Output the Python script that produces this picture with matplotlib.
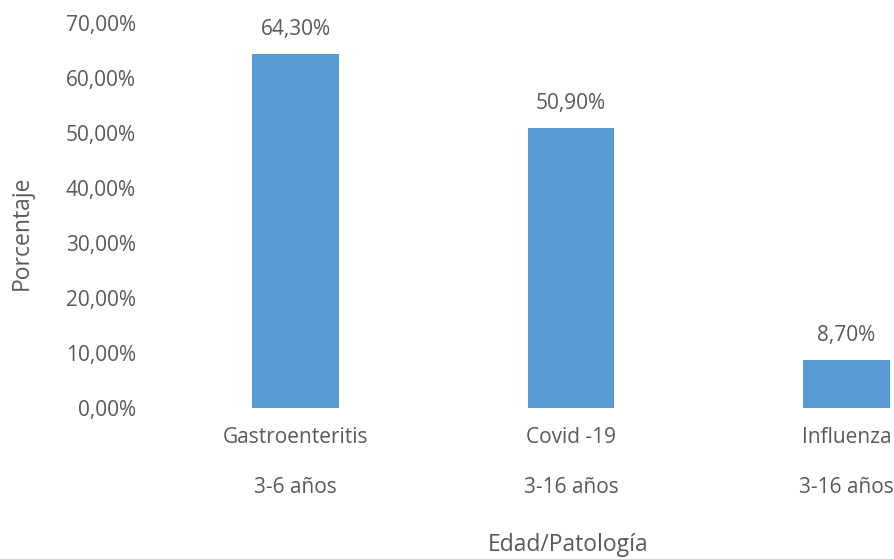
import matplotlib.pyplot as plt

# Data
patologias = ['Gastroenteritis', 'Covid -19', 'Influenza']
edades = ['3-6 años', '3-16 años', '3-16 años']
porcentajes = [64.30, 50.90, 8.70]
y_ticks = [0, 10, 20, 30, 40, 50, 60, 70]

plt.rcParams['font.family'] = ['Open Sans', 'DejaVu Sans']
gris = '#595959'
fs = 15

fig = plt.figure(figsize=(8.95, 5.59), dpi=100)
ax = fig.add_axes([158 / 895, 1 - 408 / 559, 1 - 158 / 895, (408 - 23) / 559])

x = list(range(len(patologias)))
ax.bar(x, porcentajes, width=0.315, color='#5B9BD5')

# Value labels above the bars
for xi, v in zip(x, porcentajes):
    ax.annotate(f'{v:.2f}%'.replace('.', ','), (xi, v), xytext=(0, 18),
                textcoords='offset points', ha='center', va='center',
                fontsize=fs, color=gris)

ax.set_xlim(-0.5, 2.176)
ax.set_ylim(0, 70)
ax.set_yticks(y_ticks)
ax.set_yticklabels([f'{t:.2f}%'.replace('.', ',') for t in y_ticks])
ax.set_xticks(x)
ax.set_xticklabels(patologias)

# Second line of the category labels (age range)
for xi, e in zip(x, edades):
    ax.annotate(e, (xi, 0), xycoords=('data', 'axes fraction'), xytext=(0, -57),
                textcoords='offset points', ha='center', va='center',
                fontsize=fs, color=gris)

ax.tick_params(axis='both', length=0, labelsize=fs, labelcolor=gris)
ax.tick_params(axis='y', pad=16)
ax.tick_params(axis='x', pad=14)
for s in ax.spines.values():
    s.set_visible(False)

fig.text(22 / 895, 1 - 233 / 559, 'Porcentaje', rotation=90, ha='center',
         va='center', fontsize=16.5, color=gris)
fig.text(568 / 895, 1 - 545 / 559, 'Edad/Patología', ha='center', va='center',
         fontsize=16.5, color=gris)

fig.savefig('out.png', dpi=100)
